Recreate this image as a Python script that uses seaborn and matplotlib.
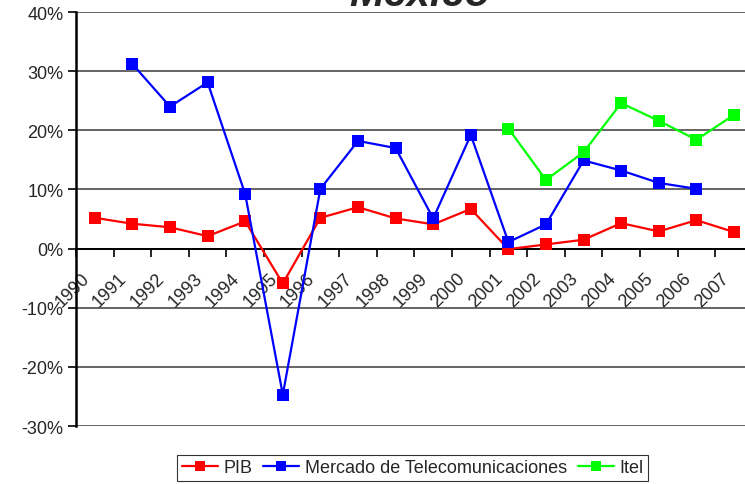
import matplotlib
matplotlib.use("Agg")
import matplotlib.pyplot as plt
import matplotlib.transforms as mtransforms
import numpy as np
import pandas as pd
import seaborn as sns

# Annual growth rates (%), Mexico
years = list(range(1990, 2008))
pib = [5.2, 4.2, 3.6, 2.1, 4.6, -5.9, 5.2, 7.0, 5.1, 4.1, 6.7, -0.1, 0.7, 1.5, 4.3, 2.9, 4.8, 2.8]
telecom_years = list(range(1991, 2007))
telecom = [31.2, 24.0, 28.1, 9.2, -24.7, 10.1, 18.2, 17.0, 5.1, 19.2, 1.1, 4.1, 14.9, 13.2, 11.1, 10.1]
itel_years = list(range(2001, 2008))
itel = [20.3, 11.6, 16.3, 24.6, 21.6, 18.4, 22.6]

series_names = ["PIB", "Mercado de Telecomunicaciones", "Itel"]
series_colors = {"PIB": "#FF0000", "Mercado de Telecomunicaciones": "#0000FF", "Itel": "#00FF00"}
y_ticks = [-30, -20, -10, 0, 10, 20, 30, 40]

df = pd.concat([
    pd.DataFrame({"year": years, "value": pib, "serie": series_names[0]}),
    pd.DataFrame({"year": telecom_years, "value": telecom, "serie": series_names[1]}),
    pd.DataFrame({"year": itel_years, "value": itel, "serie": series_names[2]}),
], ignore_index=True)

sns.set_theme(style="white")
plt.rcParams["font.family"] = ["Liberation Sans", "DejaVu Sans"]

W, H = 745, 485
fig = plt.figure(figsize=(W / 100, H / 100), dpi=100)
ax = fig.add_axes([76 / W, (H - 427) / H, 676.8 / W, 414 / H])

# horizontal grid lines
for v in y_ticks:
    ax.axhline(v, color="#3a3a3a", lw=1.1, zorder=1)

sns.lineplot(data=df, x="year", y="value", hue="serie", hue_order=series_names,
             palette=series_colors, marker="s", markersize=8.6, markeredgewidth=0,
             linewidth=1.6, dashes=False, ax=ax, zorder=3, legend=True)

ax.set_xlim(1989.5, 2007.5)
ax.set_ylim(-30, 40)
ax.set_xlabel("")
ax.set_ylabel("")

# y axis
ax.set_yticks(y_ticks)
ax.set_yticklabels([f"{v}%" for v in y_ticks], fontsize=13)
ax.tick_params(axis="y", direction="out", length=6, width=1.2, color="black", pad=3, left=True)

# x axis sits on the zero line; labels centred in each category
for s in ["top", "right"]:
    ax.spines[s].set_visible(False)
ax.spines["bottom"].set_position(("data", 0))
ax.spines["bottom"].set_color("black")
ax.spines["bottom"].set_linewidth(1.4)
ax.spines["left"].set_color("black")
ax.spines["left"].set_linewidth(1.8)

ax.set_xticks(years)
ax.set_xticklabels([str(y) for y in years], fontsize=13, rotation=45,
                   ha="right", va="center", rotation_mode="anchor")
ax.set_xticks(np.arange(1989.5, 2008.0, 1.0), minor=True)
ax.tick_params(axis="x", which="major", length=0, pad=19, bottom=True)
ax.tick_params(axis="x", which="minor", direction="out", length=6, width=1.2,
               color="black", bottom=True)
shift = mtransforms.ScaledTranslation(-8 / 100, 0, fig.dpi_scale_trans)
for lab in ax.get_xticklabels():
    lab.set_transform(lab.get_transform() + shift)

# legend below the plot
handles, labels = ax.get_legend_handles_labels()
ax.legend_.remove()
leg = fig.legend(handles, labels, loc="center", bbox_to_anchor=(412.5 / W, 1 - 469 / H),
                 ncol=3, fontsize=13, frameon=True, fancybox=False, shadow=False,
                 handlelength=2.0, handletextpad=0.3, columnspacing=0.6,
                 borderpad=0.25, borderaxespad=0)
leg.get_frame().set_edgecolor("black")
leg.get_frame().set_linewidth(0.8)
for line in leg.get_lines():
    line.set_markersize(7.5)
    line.set_linewidth(1.6)

fig.text(420 / W, 1 - 6 / H, "México", ha="center", va="baseline",
         fontsize=30, fontweight="bold", fontstyle="italic")

fig.savefig("out.png", dpi=100)
